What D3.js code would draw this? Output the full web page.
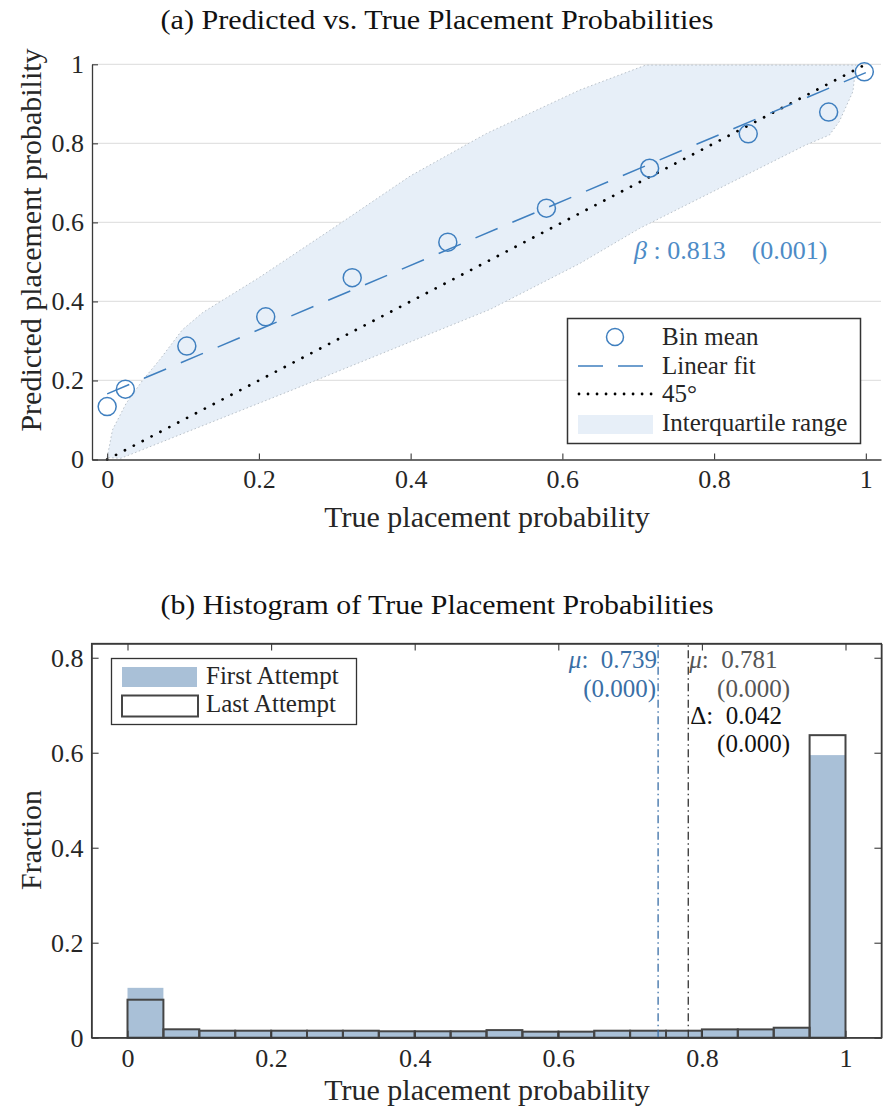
<!DOCTYPE html>
<html>
<head>
<meta charset="utf-8">
<script src="https://cdn.jsdelivr.net/npm/d3@7"></script>
<style>
  body { margin: 0; background: #fff; }
  svg { display: block; font-family: "Liberation Serif", "DejaVu Serif", serif; }
</style>
</head>
<body>
<div id="chart"></div>
<script>
// panel (a): bin means
const binX = [0.0, 0.024, 0.105, 0.209, 0.323, 0.449, 0.579, 0.715, 0.845, 0.951, 0.998];
const binY = [0.134, 0.178, 0.287, 0.361, 0.46, 0.55, 0.636, 0.737, 0.824, 0.879, 0.981];
// linear fit
const fitX = [0, 1];
const fitIntercept = 0.166;
const fitSlope = 0.813;
// interquartile band outline
const iqrUpperX = [0, 0.007, 0.025, 0.047, 0.069, 0.099, 0.126, 0.2, 0.3, 0.4, 0.5, 0.623, 0.71, 0.987];
const iqrUpperY = [0.005, 0.075, 0.142, 0.201, 0.252, 0.328, 0.372, 0.46, 0.588, 0.718, 0.825, 0.935, 0.998, 0.998];
const iqrLowerX = [0.018, 0.244, 0.505, 0.623, 0.702, 0.921, 0.952, 0.965, 0.983];
const iqrLowerY = [0.003, 0.176, 0.38, 0.496, 0.585, 0.796, 0.821, 0.855, 0.931];
const topXTicks = [0, 0.2, 0.4, 0.6, 0.8, 1];
const topYTicks = [0, 0.2, 0.4, 0.6, 0.8, 1];

// panel (b): histogram
const histEdges = [0, 0.05, 0.1, 0.15, 0.2, 0.25, 0.3, 0.35, 0.4, 0.45, 0.5,
                   0.55, 0.6, 0.65, 0.7, 0.75, 0.8, 0.85, 0.9, 0.95, 1];
const firstAttempt = [0.105, 0.018, 0.015, 0.015, 0.015, 0.015, 0.015, 0.014, 0.014, 0.014,
                      0.016, 0.013, 0.013, 0.015, 0.015, 0.015, 0.018, 0.018, 0.021, 0.595];
const lastAttempt = [0.080, 0.0177, 0.0147, 0.0147, 0.0147, 0.0147, 0.0147, 0.0135, 0.0135, 0.0135,
                     0.016, 0.0127, 0.0127, 0.0147, 0.0147, 0.0147, 0.0175, 0.0175, 0.021, 0.637];
const meanFirst = 0.739;
const meanLast = 0.781;
const histXTicks = [0, 0.2, 0.4, 0.6, 0.8, 1];
const histYTicks = [0, 0.2, 0.4, 0.6, 0.8];

(function() {
  'use strict';

  const W = 883, H = 1116;
  const blue = '#3f7fbf';
  const darkBlue = '#3a6fa6';
  const axisColor = '#3a3a3a';
  const textColor = '#262626';
  const barFill = '#a9c0d7';
  const fmt = d => (d === 0 || d === 1) ? String(d) : d.toFixed(1);

  const svg = d3.select('#chart').append('svg')
    .attr('width', W)
    .attr('height', H);

  function styleAxis(g) {
    g.select('.domain').attr('stroke', axisColor).attr('stroke-width', 1.3);
    g.selectAll('.tick line').attr('stroke', axisColor).attr('stroke-width', 1.1);
    g.selectAll('.tick text')
      .attr('fill', textColor)
      .attr('font-size', 26)
      .attr('font-family', '"Liberation Serif", serif');
  }

  function title(y, txt) {
    svg.append('text')
      .attr('x', 437).attr('y', y)
      .attr('text-anchor', 'middle')
      .attr('font-size', 27)
      .attr('fill', '#111')
      .attr('textLength', 553)
      .attr('lengthAdjust', 'spacingAndGlyphs')
      .text(txt);
  }

  // ---------- (a) Predicted vs. True ----------
  const xa = d3.scaleLinear().domain([-0.02, 1.02]).range([92, 881]);
  const ya = d3.scaleLinear().domain([0, 1]).range([459.5, 64.3]);

  title(29, '(a) Predicted vs. True Placement Probabilities');

  // grid
  svg.append('g')
    .selectAll('line')
    .data(topYTicks.filter(d => d > 0))
    .join('line')
    .attr('x1', xa.range()[0]).attr('x2', xa.range()[1])
    .attr('y1', d => ya(d)).attr('y2', d => ya(d))
    .attr('stroke', '#e2e2e2')
    .attr('stroke-width', 1.2);

  // interquartile band
  const bandPts = iqrUpperX.map((x, i) => [x, iqrUpperY[i]])
    .concat(iqrLowerX.map((x, i) => [x, iqrLowerY[i]]).reverse());
  svg.append('path')
    .datum(bandPts)
    .attr('d', d3.line().x(d => xa(d[0])).y(d => ya(d[1])).curve(d3.curveLinearClosed))
    .attr('fill', '#e7eff8')
    .attr('stroke', '#b8c0c8')
    .attr('stroke-width', 1)
    .attr('stroke-dasharray', '1.5,2.5');

  // 45 degree line
  svg.append('line')
    .attr('x1', xa(0)).attr('y1', ya(0))
    .attr('x2', xa(1)).attr('y2', ya(1))
    .attr('stroke', '#000')
    .attr('stroke-width', 2.8)
    .attr('stroke-linecap', 'round')
    .attr('stroke-dasharray', '0.01,10');

  // linear fit
  svg.append('path')
    .datum(fitX)
    .attr('d', d3.line().x(d => xa(d)).y(d => ya(fitIntercept + fitSlope * d)))
    .attr('fill', 'none')
    .attr('stroke', blue)
    .attr('stroke-width', 1.5)
    .attr('stroke-dasharray', '24,16');

  // bin means
  svg.append('g')
    .selectAll('circle')
    .data(binX.map((x, i) => [x, binY[i]]))
    .join('circle')
    .attr('cx', d => xa(d[0]))
    .attr('cy', d => ya(d[1]))
    .attr('r', 9)
    .attr('fill', 'none')
    .attr('stroke', blue)
    .attr('stroke-width', 1.5);

  // axes
  svg.append('g')
    .attr('transform', `translate(0,${ya(0)})`)
    .call(d3.axisBottom(xa).tickValues(topXTicks).tickFormat(fmt)
      .tickSizeInner(-6).tickSizeOuter(0).tickPadding(10))
    .call(styleAxis);
  svg.append('g')
    .attr('transform', `translate(${xa.range()[0]},0)`)
    .call(d3.axisLeft(ya).tickValues(topYTicks).tickFormat(fmt)
      .tickSizeInner(-6).tickSizeOuter(0).tickPadding(8))
    .call(styleAxis);

  // beta annotation
  const beta = svg.append('text')
    .attr('x', 634).attr('y', 259)
    .attr('font-size', 26)
    .attr('fill', '#4d8bc6')
    .style('white-space', 'pre');
  beta.append('tspan').attr('font-style', 'italic').text('β');
  beta.append('tspan').text(' : 0.813    (0.001)');

  // axis labels
  svg.append('text')
    .attr('x', 487).attr('y', 527)
    .attr('text-anchor', 'middle')
    .attr('font-size', 30)
    .attr('fill', textColor)
    .text('True placement probability');
  svg.append('text')
    .attr('transform', 'translate(41,240) rotate(-90)')
    .attr('text-anchor', 'middle')
    .attr('font-size', 30)
    .attr('fill', textColor)
    .text('Predicted placement probability');

  // legend (a)
  const lgA = svg.append('g');
  lgA.append('rect')
    .attr('x', 567.5).attr('y', 318.5)
    .attr('width', 293).attr('height', 125)
    .attr('fill', '#fff')
    .attr('stroke', '#333')
    .attr('stroke-width', 1.5);
  const rowsA = [337, 366, 394, 423];
  lgA.append('circle')
    .attr('cx', 615).attr('cy', rowsA[0])
    .attr('r', 8.5)
    .attr('fill', 'none').attr('stroke', blue).attr('stroke-width', 1.5);
  lgA.append('line')
    .attr('x1', 578).attr('x2', 643).attr('y1', rowsA[1]).attr('y2', rowsA[1])
    .attr('stroke', blue).attr('stroke-width', 1.5)
    .attr('stroke-dasharray', '25,15');
  lgA.append('line')
    .attr('x1', 579).attr('x2', 652).attr('y1', rowsA[2]).attr('y2', rowsA[2])
    .attr('stroke', '#000').attr('stroke-width', 2.8)
    .attr('stroke-linecap', 'round')
    .attr('stroke-dasharray', '0.01,9');
  lgA.append('rect')
    .attr('x', 578).attr('y', 415)
    .attr('width', 75).attr('height', 19)
    .attr('fill', '#e7eff8');
  ['Bin mean', 'Linear fit', '45°', 'Interquartile range'].forEach((t, i) => {
    lgA.append('text')
      .attr('x', 662).attr('y', rowsA[i] + 8)
      .attr('font-size', 25)
      .attr('fill', textColor)
      .text(t);
  });

  // ---------- (b) Histogram ----------
  const xb = d3.scaleLinear().domain([-0.05, 1.05]).range([91.6, 881.4]);
  const yb = d3.scaleLinear().domain([0, 0.83]).range([1037.7, 643.5]);

  title(614, '(b) Histogram of True Placement Probabilities');

  const bins = firstAttempt.map((v, i) => ({
    x0: histEdges[i], x1: histEdges[i + 1], first: v, last: lastAttempt[i]
  }));

  svg.append('g')
    .selectAll('rect')
    .data(bins)
    .join('rect')
    .attr('x', d => xb(d.x0))
    .attr('y', d => yb(d.first))
    .attr('width', d => xb(d.x1) - xb(d.x0))
    .attr('height', d => yb(0) - yb(d.first))
    .attr('fill', barFill);

  svg.append('g')
    .selectAll('rect')
    .data(bins)
    .join('rect')
    .attr('x', d => xb(d.x0))
    .attr('y', d => yb(d.last))
    .attr('width', d => xb(d.x1) - xb(d.x0))
    .attr('height', d => yb(0) - yb(d.last))
    .attr('fill', 'none')
    .attr('stroke', '#454545')
    .attr('stroke-width', 2);

  // mean lines
  [[meanFirst, darkBlue], [meanLast, '#333']].forEach(([m, c]) => {
    svg.append('line')
      .attr('x1', xb(m)).attr('x2', xb(m))
      .attr('y1', yb(0)).attr('y2', yb.range()[1])
      .attr('stroke', c)
      .attr('stroke-width', 1.3)
      .attr('stroke-dasharray', '8,3.5,1.5,3.5');
  });

  // mean annotations
  function labelText(x, y, anchor, color, parts) {
    const t = svg.append('text')
      .attr('x', x).attr('y', y)
      .attr('text-anchor', anchor)
      .attr('font-size', 25)
      .attr('fill', color)
      .style('white-space', 'pre');
    parts.forEach(([s, italic]) => {
      t.append('tspan').attr('font-style', italic ? 'italic' : null).text(s);
    });
  }
  labelText(xb(meanFirst) - 1, 668, 'end', darkBlue, [['μ', true], [':  0.739', false]]);
  labelText(xb(meanFirst) - 2, 697, 'end', darkBlue, [['(0.000)', false]]);
  labelText(xb(meanLast) + 1, 668, 'start', '#555', [['μ', true], [':  0.781', false]]);
  labelText(790, 697, 'end', '#555', [['(0.000)', false]]);
  labelText(xb(meanLast) + 2, 724, 'start', '#111', [['Δ:  0.042', false]]);
  labelText(790, 752, 'end', '#111', [['(0.000)', false]]);

  // box + axes with ticks on every side
  svg.append('rect')
    .attr('x', xb.range()[0]).attr('y', yb.range()[1])
    .attr('width', xb.range()[1] - xb.range()[0])
    .attr('height', yb.range()[0] - yb.range()[1])
    .attr('fill', 'none')
    .attr('stroke', axisColor)
    .attr('stroke-width', 1.3);
  svg.append('g')
    .attr('transform', `translate(0,${yb(0)})`)
    .call(d3.axisBottom(xb).tickValues(histXTicks).tickFormat(fmt)
      .tickSizeInner(-7).tickSizeOuter(0).tickPadding(11))
    .call(styleAxis);
  svg.append('g')
    .attr('transform', `translate(0,${yb.range()[1]})`)
    .call(d3.axisTop(xb).tickValues(histXTicks).tickFormat('')
      .tickSizeInner(-7).tickSizeOuter(0))
    .call(styleAxis);
  svg.append('g')
    .attr('transform', `translate(${xb.range()[0]},0)`)
    .call(d3.axisLeft(yb).tickValues(histYTicks).tickFormat(fmt)
      .tickSizeInner(-7).tickSizeOuter(0).tickPadding(8))
    .call(styleAxis);
  svg.append('g')
    .attr('transform', `translate(${xb.range()[1]},0)`)
    .call(d3.axisRight(yb).tickValues(histYTicks).tickFormat('')
      .tickSizeInner(-7).tickSizeOuter(0))
    .call(styleAxis);

  svg.append('text')
    .attr('x', 487).attr('y', 1100)
    .attr('text-anchor', 'middle')
    .attr('font-size', 30)
    .attr('fill', textColor)
    .text('True placement probability');
  svg.append('text')
    .attr('transform', 'translate(41,840) rotate(-90)')
    .attr('text-anchor', 'middle')
    .attr('font-size', 30)
    .attr('fill', textColor)
    .text('Fraction');

  // legend (b)
  const lgB = svg.append('g');
  lgB.append('rect')
    .attr('x', 111.5).attr('y', 658.5)
    .attr('width', 245).attr('height', 66)
    .attr('fill', '#fff')
    .attr('stroke', '#333')
    .attr('stroke-width', 1.3);
  lgB.append('rect')
    .attr('x', 122).attr('y', 667)
    .attr('width', 75).attr('height', 20)
    .attr('fill', barFill);
  lgB.append('rect')
    .attr('x', 122).attr('y', 695.5)
    .attr('width', 76).attr('height', 21)
    .attr('fill', '#fff')
    .attr('stroke', '#454545')
    .attr('stroke-width', 2);
  lgB.append('text')
    .attr('x', 206).attr('y', 684)
    .attr('font-size', 25).attr('fill', textColor)
    .text('First Attempt');
  lgB.append('text')
    .attr('x', 206).attr('y', 712)
    .attr('font-size', 25).attr('fill', textColor)
    .text('Last Attempt');
})();
</script>
</body>
</html>
